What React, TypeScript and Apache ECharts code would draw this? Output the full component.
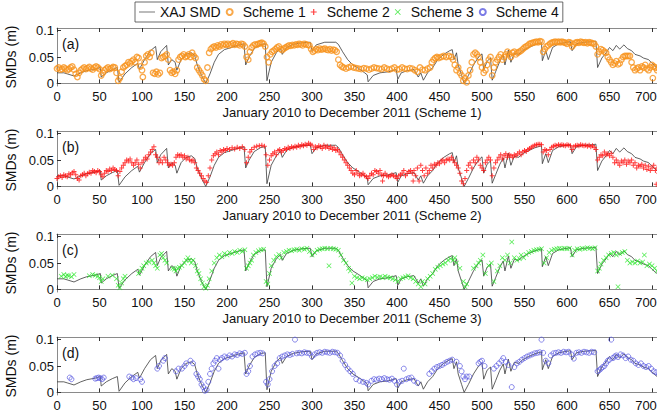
import React, { useEffect, useRef } from "react";
import * as echarts from "echarts";

const FONT = '"Liberation Sans", Arial, Helvetica, sans-serif';

// XAJ SMD (day, m)
const xajSmd: [number, number][] = [[0,0.02],[8,0.02],[12,0.018],[20,0.014],[28,0.02],[35,0.024],[45,0.027],[51,0.03],[52,0.012],[58,0.02],[65,0.026],[71,0.03],[73,0.002],[80,0.018],[88,0.03],[95,0.038],[97,0.027],[103,0.045],[110,0.062],[116,0.07],[118,0.045],[122,0.06],[129,0.072],[131,0.035],[135,0.045],[139,0.04],[141,0.025],[146,0.045],[152,0.055],[158,0.058],[162,0.053],[165,0.035],[170,0.015],[175,0.0],[180,0.018],[185,0.04],[190,0.055],[197,0.064],[205,0.068],[212,0.072],[220,0.075],[222,0.035],[226,0.05],[232,0.066],[240,0.074],[245,0.075],[247,0.005],[252,0.04],[258,0.058],[263,0.066],[265,0.055],[270,0.068],[278,0.074],[288,0.077],[298,0.078],[300,0.062],[305,0.073],[315,0.078],[328,0.078],[331,0.074],[336,0.06],[342,0.045],[348,0.035],[355,0.028],[362,0.02],[365,0.016],[366,0.003],[372,0.015],[380,0.02],[390,0.022],[399,0.026],[401,0.008],[405,0.02],[412,0.024],[420,0.026],[425,0.012],[428,0.02],[431,0.006],[436,0.02],[442,0.03],[448,0.045],[455,0.055],[462,0.062],[465,0.064],[467,0.045],[470,0.058],[472,0.035],[476,0.015],[479,0.0],[484,0.015],[490,0.035],[496,0.05],[500,0.056],[502,0.025],[506,0.042],[510,0.048],[512,0.006],[516,0.022],[521,0.042],[525,0.054],[527,0.035],[531,0.063],[534,0.04],[538,0.057],[543,0.055],[548,0.062],[555,0.068],[562,0.073],[570,0.077],[571,0.043],[575,0.062],[578,0.045],[583,0.068],[590,0.075],[600,0.078],[604,0.079],[606,0.062],[611,0.075],[620,0.078],[630,0.079],[634,0.08],[636,0.03],[641,0.048],[646,0.058],[650,0.068],[654,0.062],[658,0.072],[662,0.065],[667,0.073],[671,0.066],[676,0.062],[680,0.055],[686,0.052],[690,0.048],[696,0.045],[700,0.038],[706,0.03],[712,0.03],[718,0.035],[724,0.04],[730,0.042]];

const scheme1: [number, number][] = [[0,0.028],[2,0.03],[4,0.026],[6,0.027],[8,0.03],[10,0.028],[12,0.025],[14,0.027],[16,0.03],[18,0.032],[20,0.026],[22,0.018],[24,0.012],[26,0.02],[28,0.025],[30,0.028],[32,0.03],[34,0.027],[36,0.029],[38,0.031],[40,0.028],[42,0.026],[44,0.03],[46,0.032],[48,0.03],[50,0.027],[52,0.015],[54,0.02],[56,0.025],[58,0.028],[60,0.03],[62,0.027],[64,0.029],[66,0.031],[68,0.03],[70,0.02],[72,0.005],[74,0.01],[76,0.022],[78,0.03],[80,0.033],[82,0.035],[84,0.04],[86,0.038],[88,0.042],[90,0.045],[92,0.04],[94,0.05],[96,0.048],[98,0.032],[100,0.025],[101,0.012],[103,0.04],[105,0.052],[107,0.055],[109,0.05],[111,0.058],[113,0.02],[115,0.018],[117,0.022],[119,0.017],[121,0.02],[123,0.048],[125,0.05],[127,0.052],[129,0.055],[131,0.045],[133,0.025],[135,0.02],[137,0.022],[139,0.018],[141,0.025],[143,0.045],[145,0.05],[147,0.052],[149,0.055],[151,0.05],[153,0.052],[155,0.055],[157,0.05],[159,0.058],[161,0.052],[163,0.048],[165,0.03],[167,0.025],[169,0.02],[171,0.015],[173,0.008],[175,0.005],[177,0.03],[179,0.058],[181,0.065],[183,0.068],[185,0.07],[187,0.068],[189,0.072],[191,0.07],[193,0.074],[195,0.072],[197,0.075],[199,0.073],[201,0.075],[203,0.072],[205,0.074],[207,0.076],[209,0.073],[211,0.075],[213,0.074],[215,0.072],[217,0.075],[219,0.074],[221,0.07],[223,0.05],[225,0.045],[227,0.06],[229,0.068],[231,0.072],[233,0.074],[235,0.073],[237,0.075],[239,0.076],[241,0.077],[243,0.075],[245,0.07],[247,0.05],[249,0.04],[251,0.055],[253,0.06],[255,0.062],[257,0.065],[259,0.068],[261,0.07],[263,0.065],[265,0.063],[267,0.066],[269,0.068],[271,0.07],[273,0.072],[275,0.071],[277,0.073],[279,0.072],[281,0.074],[283,0.073],[285,0.075],[287,0.074],[289,0.072],[291,0.075],[293,0.074],[295,0.073],[297,0.072],[299,0.065],[301,0.06],[303,0.062],[305,0.065],[307,0.063],[309,0.066],[311,0.064],[313,0.065],[315,0.066],[317,0.064],[319,0.063],[321,0.065],[323,0.062],[325,0.064],[327,0.063],[329,0.06],[331,0.045],[333,0.035],[335,0.032],[337,0.03],[340,0.028],[343,0.03],[346,0.032],[349,0.03],[352,0.029],[355,0.028],[358,0.027],[361,0.029],[364,0.028],[367,0.026],[370,0.028],[373,0.03],[376,0.029],[379,0.028],[382,0.027],[385,0.03],[388,0.028],[391,0.026],[394,0.028],[397,0.03],[400,0.026],[403,0.027],[406,0.03],[409,0.028],[412,0.027],[415,0.029],[418,0.028],[421,0.025],[424,0.022],[427,0.03],[430,0.026],[433,0.025],[436,0.028],[439,0.03],[441,0.04],[443,0.045],[445,0.048],[447,0.05],[449,0.048],[452,0.05],[455,0.052],[458,0.05],[461,0.052],[464,0.05],[466,0.045],[468,0.035],[470,0.025],[472,0.03],[474,0.02],[476,0.015],[478,0.005],[480,0.01],[482,0.002],[484,0.015],[486,0.025],[488,0.04],[490,0.055],[492,0.058],[494,0.055],[496,0.05],[498,0.04],[500,0.03],[502,0.02],[504,0.025],[506,0.035],[508,0.045],[510,0.05],[512,0.015],[514,0.03],[516,0.04],[518,0.045],[520,0.05],[522,0.055],[524,0.045],[526,0.05],[528,0.055],[530,0.06],[532,0.055],[534,0.05],[536,0.058],[538,0.06],[540,0.055],[542,0.058],[544,0.06],[546,0.062],[548,0.065],[550,0.068],[552,0.07],[554,0.072],[556,0.075],[558,0.076],[560,0.077],[562,0.078],[564,0.079],[566,0.078],[568,0.08],[570,0.079],[572,0.06],[574,0.065],[576,0.07],[578,0.072],[580,0.075],[582,0.077],[584,0.078],[586,0.079],[588,0.078],[590,0.079],[592,0.078],[594,0.079],[596,0.078],[598,0.077],[600,0.075],[602,0.078],[604,0.077],[606,0.07],[608,0.074],[610,0.077],[612,0.078],[614,0.077],[616,0.079],[618,0.078],[620,0.077],[622,0.078],[624,0.076],[626,0.078],[628,0.077],[630,0.076],[632,0.075],[634,0.07],[636,0.055],[638,0.06],[640,0.065],[642,0.063],[644,0.06],[646,0.058],[648,0.05],[650,0.045],[652,0.04],[654,0.035],[656,0.038],[658,0.042],[660,0.036],[662,0.038],[664,0.045],[666,0.05],[668,0.052],[670,0.052],[672,0.052],[674,0.052],[676,0.04],[678,0.03],[680,0.025],[682,0.028],[684,0.03],[686,0.025],[688,0.032],[690,0.03],[692,0.035],[694,0.028],[696,0.025],[698,0.03],[700,0.035],[701,0.01],[702,0.032],[704,0.03],[706,0.025],[708,0.028],[710,0.03],[712,0.027],[714,0.03]];

const scheme2: [number, number][] = [[0,0.015],[2,0.018],[4,0.02],[6,0.017],[8,0.022],[10,0.02],[12,0.018],[14,0.024],[16,0.022],[18,0.026],[20,0.028],[22,0.022],[24,0.015],[26,0.012],[28,0.02],[30,0.022],[32,0.025],[34,0.02],[36,0.024],[38,0.027],[40,0.025],[42,0.03],[44,0.028],[46,0.026],[48,0.03],[50,0.028],[52,0.022],[54,0.018],[56,0.025],[58,0.03],[60,0.028],[62,0.033],[64,0.03],[66,0.035],[68,0.032],[70,0.03],[72,0.02],[74,0.028],[76,0.035],[78,0.04],[80,0.045],[82,0.05],[84,0.048],[86,0.052],[88,0.045],[90,0.04],[92,0.045],[94,0.05],[96,0.042],[98,0.035],[100,0.045],[102,0.05],[104,0.055],[106,0.052],[108,0.06],[110,0.065],[112,0.07],[114,0.075],[116,0.06],[118,0.055],[120,0.045],[122,0.05],[124,0.045],[126,0.055],[128,0.05],[130,0.045],[132,0.04],[134,0.042],[136,0.04],[138,0.045],[140,0.055],[142,0.06],[144,0.058],[146,0.06],[148,0.055],[150,0.058],[152,0.052],[154,0.055],[156,0.05],[158,0.048],[160,0.05],[162,0.045],[164,0.035],[166,0.03],[168,0.025],[170,0.02],[172,0.015],[174,0.01],[176,0.008],[178,0.02],[180,0.035],[182,0.05],[184,0.058],[186,0.062],[188,0.065],[190,0.06],[192,0.068],[194,0.065],[196,0.07],[198,0.068],[200,0.072],[203,0.07],[206,0.073],[209,0.071],[212,0.074],[215,0.072],[218,0.075],[221,0.07],[223,0.045],[225,0.055],[227,0.065],[229,0.07],[232,0.074],[235,0.076],[238,0.077],[241,0.078],[244,0.076],[246,0.06],[248,0.04],[250,0.05],[252,0.058],[254,0.062],[256,0.065],[258,0.06],[260,0.068],[262,0.07],[264,0.065],[266,0.068],[268,0.072],[270,0.07],[272,0.074],[274,0.072],[276,0.075],[278,0.073],[280,0.076],[282,0.074],[284,0.078],[286,0.075],[288,0.079],[290,0.077],[292,0.08],[294,0.078],[296,0.082],[298,0.08],[300,0.078],[302,0.07],[304,0.075],[306,0.073],[308,0.077],[310,0.075],[312,0.072],[314,0.078],[316,0.074],[318,0.076],[320,0.072],[322,0.075],[324,0.07],[326,0.073],[328,0.068],[330,0.07],[332,0.065],[334,0.06],[336,0.055],[338,0.05],[340,0.045],[342,0.04],[344,0.035],[346,0.03],[348,0.025],[350,0.022],[352,0.03],[354,0.025],[356,0.02],[358,0.022],[360,0.025],[362,0.02],[364,0.018],[366,0.015],[368,0.02],[370,0.025],[372,0.022],[374,0.03],[376,0.028],[378,0.025],[380,0.03],[382,0.022],[383,0.01],[384,0.02],[386,0.025],[388,0.02],[390,0.018],[392,0.02],[394,0.022],[396,0.02],[398,0.018],[400,0.015],[402,0.02],[404,0.022],[406,0.025],[408,0.03],[410,0.02],[412,0.025],[414,0.028],[416,0.03],[418,0.025],[419,0.01],[420,0.03],[422,0.02],[424,0.035],[426,0.01],[428,0.04],[430,0.03],[432,0.02],[434,0.035],[436,0.025],[438,0.03],[440,0.04],[442,0.035],[444,0.042],[446,0.04],[448,0.045],[450,0.043],[452,0.048],[454,0.05],[456,0.045],[458,0.05],[460,0.052],[462,0.05],[464,0.055],[466,0.05],[468,0.045],[470,0.04],[472,0.035],[474,0.025],[476,0.01],[478,0.005],[480,0.015],[482,0.03],[484,0.04],[486,0.045],[488,0.035],[490,0.05],[492,0.045],[494,0.055],[496,0.05],[498,0.04],[500,0.035],[502,0.03],[504,0.045],[506,0.05],[508,0.055],[510,0.05],[512,0.02],[514,0.035],[516,0.045],[518,0.05],[520,0.055],[522,0.06],[524,0.052],[526,0.058],[528,0.062],[530,0.055],[532,0.06],[534,0.058],[536,0.055],[538,0.06],[540,0.058],[542,0.062],[544,0.065],[546,0.06],[548,0.065],[550,0.068],[552,0.066],[554,0.07],[556,0.072],[558,0.074],[560,0.076],[562,0.078],[564,0.079],[566,0.08],[568,0.08],[570,0.079],[572,0.065],[574,0.07],[576,0.068],[578,0.06],[580,0.07],[582,0.074],[584,0.076],[586,0.078],[588,0.077],[590,0.079],[592,0.078],[594,0.079],[596,0.078],[598,0.077],[600,0.079],[602,0.078],[604,0.077],[606,0.07],[608,0.075],[610,0.077],[612,0.078],[614,0.077],[616,0.079],[618,0.078],[620,0.077],[622,0.078],[624,0.076],[626,0.078],[628,0.075],[630,0.077],[632,0.074],[634,0.07],[636,0.05],[638,0.055],[640,0.06],[642,0.058],[644,0.065],[646,0.06],[648,0.062],[650,0.058],[652,0.063],[654,0.055],[656,0.045],[658,0.05],[660,0.045],[662,0.04],[664,0.048],[666,0.045],[668,0.05],[670,0.042],[672,0.048],[674,0.045],[676,0.05],[678,0.04],[680,0.045],[682,0.035],[684,0.04],[686,0.038],[688,0.042],[690,0.035],[692,0.04],[694,0.032],[696,0.038],[698,0.03],[700,0.035],[702,0.04],[704,0.03],[705,0.004],[706,0.035],[708,0.025],[710,0.03],[712,0.028],[714,0.032]];

const scheme3: [number, number][] = [[5,0.025],[8,0.028],[10,0.024],[12,0.027],[14,0.026],[17,0.024],[20,0.028],[38,0.026],[42,0.028],[45,0.027],[48,0.025],[50,0.022],[52,0.015],[54,0.02],[60,0.025],[65,0.027],[70,0.02],[72,0.008],[74,0.003],[76,0.012],[78,0.02],[80,0.025],[96,0.03],[98,0.035],[100,0.04],[102,0.045],[105,0.05],[108,0.052],[112,0.055],[114,0.05],[116,0.045],[118,0.04],[121,0.065],[123,0.068],[125,0.06],[127,0.055],[129,0.05],[136,0.04],[138,0.038],[140,0.035],[142,0.04],[144,0.042],[147,0.045],[150,0.05],[152,0.055],[154,0.06],[156,0.055],[158,0.05],[160,0.055],[163,0.045],[165,0.035],[167,0.03],[169,0.02],[171,0.012],[173,0.005],[175,0.002],[177,0.008],[179,0.02],[182,0.035],[185,0.05],[188,0.06],[191,0.065],[194,0.062],[197,0.068],[200,0.065],[203,0.07],[206,0.068],[209,0.072],[212,0.07],[215,0.074],[218,0.072],[221,0.075],[223,0.04],[225,0.045],[227,0.05],[229,0.055],[231,0.065],[234,0.07],[237,0.073],[240,0.075],[243,0.076],[246,0.015],[248,0.01],[250,0.03],[252,0.045],[255,0.055],[258,0.062],[261,0.066],[264,0.06],[267,0.07],[270,0.072],[273,0.074],[276,0.073],[279,0.075],[282,0.076],[285,0.074],[288,0.077],[291,0.076],[294,0.078],[297,0.072],[300,0.065],[303,0.07],[306,0.074],[309,0.076],[312,0.077],[315,0.078],[318,0.077],[320,0.045],[322,0.078],[325,0.077],[328,0.076],[331,0.074],[334,0.065],[337,0.055],[340,0.05],[343,0.04],[345,0.035],[347,0.012],[350,0.025],[353,0.022],[356,0.02],[359,0.022],[362,0.02],[365,0.018],[368,0.02],[371,0.022],[374,0.025],[377,0.023],[380,0.024],[383,0.022],[386,0.025],[389,0.023],[392,0.022],[395,0.02],[398,0.018],[401,0.015],[404,0.02],[407,0.022],[410,0.024],[413,0.026],[416,0.022],[419,0.02],[422,0.015],[425,0.01],[428,0.005],[430,0.015],[433,0.01],[436,0.02],[439,0.025],[442,0.03],[445,0.038],[448,0.042],[451,0.045],[454,0.048],[457,0.05],[460,0.055],[463,0.058],[466,0.055],[468,0.06],[470,0.05],[474,0.04],[478,0.015],[480,0.005],[482,0.01],[490,0.04],[493,0.045],[496,0.05],[498,0.055],[501,0.065],[504,0.03],[508,0.045],[511,0.05],[514,0.015],[518,0.035],[521,0.045],[524,0.06],[527,0.055],[530,0.065],[533,0.05],[535,0.09],[538,0.06],[541,0.055],[544,0.058],[546,0.065],[549,0.06],[552,0.066],[555,0.07],[558,0.072],[561,0.074],[564,0.075],[567,0.076],[570,0.077],[573,0.05],[576,0.06],[579,0.07],[582,0.074],[585,0.076],[588,0.077],[591,0.078],[594,0.077],[597,0.078],[600,0.077],[603,0.078],[606,0.065],[609,0.074],[612,0.077],[615,0.076],[618,0.078],[621,0.077],[624,0.079],[627,0.078],[630,0.077],[633,0.079],[636,0.035],[638,0.04],[640,0.048],[643,0.055],[646,0.06],[649,0.065],[652,0.068],[655,0.07],[658,0.065],[660,0.005],[662,0.068],[665,0.07],[668,0.072],[671,0.055],[674,0.05],[677,0.052],[680,0.05],[683,0.054],[686,0.05],[689,0.052],[691,0.065],[694,0.045],[697,0.048],[700,0.045],[703,0.04],[706,0.035],[709,0.032],[712,0.03],[715,0.032]];

const scheme4: [number, number][] = [[15,0.028],[17,0.025],[45,0.026],[47,0.027],[49,0.028],[51,0.027],[53,0.025],[55,0.028],[85,0.03],[88,0.028],[90,0.025],[93,0.027],[98,0.025],[100,0.02],[118,0.045],[120,0.05],[125,0.06],[127,0.065],[140,0.04],[143,0.045],[147,0.045],[150,0.05],[152,0.055],[157,0.06],[160,0.055],[164,0.035],[166,0.03],[168,0.025],[170,0.015],[172,0.01],[174,0.003],[176,0.005],[178,0.02],[180,0.035],[182,0.045],[184,0.055],[186,0.06],[188,0.065],[190,0.045],[192,0.062],[194,0.065],[197,0.068],[200,0.066],[203,0.07],[206,0.068],[209,0.072],[212,0.071],[215,0.074],[218,0.073],[221,0.075],[223,0.035],[225,0.04],[227,0.05],[230,0.068],[233,0.072],[236,0.074],[239,0.075],[242,0.074],[246,0.02],[248,0.015],[250,0.025],[253,0.04],[256,0.05],[259,0.055],[262,0.065],[265,0.068],[268,0.07],[271,0.072],[274,0.071],[277,0.073],[280,0.1],[282,0.074],[285,0.075],[288,0.074],[291,0.076],[294,0.075],[297,0.074],[300,0.068],[303,0.072],[306,0.075],[309,0.076],[312,0.075],[315,0.077],[318,0.076],[321,0.075],[324,0.077],[327,0.076],[330,0.075],[333,0.07],[336,0.06],[339,0.052],[342,0.045],[345,0.04],[348,0.035],[352,0.025],[356,0.022],[360,0.02],[364,0.018],[366,0.015],[370,0.022],[373,0.025],[376,0.024],[379,0.026],[382,0.025],[385,0.027],[388,0.025],[391,0.024],[394,0.026],[397,0.022],[400,0.015],[403,0.02],[406,0.022],[408,0.045],[411,0.025],[414,0.027],[417,0.028],[420,0.022],[424,0.018],[438,0.035],[441,0.04],[444,0.045],[447,0.048],[450,0.05],[453,0.052],[456,0.055],[459,0.058],[462,0.06],[465,0.062],[470,0.058],[474,0.05],[476,0.04],[478,0.03],[480,0.025],[482,0.03],[485,0.03],[496,0.055],[498,0.058],[500,0.06],[503,0.05],[514,0.045],[517,0.05],[520,0.055],[523,0.06],[525,0.065],[528,0.058],[531,0.052],[535,0.01],[538,0.048],[541,0.055],[544,0.058],[547,0.062],[550,0.065],[553,0.068],[556,0.07],[559,0.072],[562,0.074],[565,0.075],[568,0.076],[570,0.1],[572,0.075],[575,0.06],[578,0.055],[581,0.07],[584,0.074],[587,0.075],[590,0.076],[593,0.075],[596,0.077],[599,0.076],[602,0.077],[605,0.072],[608,0.064],[611,0.075],[614,0.076],[617,0.075],[620,0.077],[623,0.076],[626,0.075],[629,0.077],[632,0.076],[636,0.04],[638,0.042],[640,0.045],[642,0.048],[644,0.05],[646,0.055],[648,0.06],[650,0.062],[652,0.1],[654,0.065],[656,0.068],[658,0.07],[660,0.067],[663,0.072],[666,0.07],[669,0.065],[672,0.068],[675,0.062],[678,0.06],[681,0.055],[684,0.052],[687,0.055],[690,0.05],[693,0.048],[696,0.05],[699,0.045],[702,0.04],[705,0.038],[708,0.035],[710,0.015],[712,0.03],[715,0.03]];

const yTicks = [0, 0.05, 0.1];
const panelLabels = ["(a)", "(b)", "(c)", "(d)"];
const schemeNames = ["Scheme 1", "Scheme 2", "Scheme 3", "Scheme 4"];
// the fourth panel's x title lies below the picture's bottom edge in the reference
const xTitles = [
  "January 2010 to December 2011 (Scheme 1)",
  "January 2010 to December 2011 (Scheme 2)",
  "January 2010 to December 2011 (Scheme 3)",
];

const PLUS = "path://M4,0H6V4H10V6H6V10H4V6H0V4H4Z";
const CROSS = "path://M0,1L1,0L5,4L9,0L10,1L6,5L10,9L9,10L5,6L1,10L0,9L4,5Z";
const LINE_ICON = "path://M0,0H20V1H0Z";

export default function App() {
  const ref = useRef<HTMLDivElement>(null);
  useEffect(() => {
    if (!ref.current) return;
    const chart = echarts.init(ref.current, null, { renderer: "svg" });
    const schemes = [scheme1, scheme2, scheme3, scheme4];
    const schemeStyles: any[] = [
      { symbol: "circle", symbolSize: 5.5, itemStyle: { color: "rgba(0,0,0,0)", borderColor: "#F7931E", borderWidth: 1.3 } },
      { symbol: PLUS, symbolSize: 5, itemStyle: { color: "#FF1010" } },
      { symbol: CROSS, symbolSize: 5, itemStyle: { color: "#22E622" } },
      { symbol: "circle", symbolSize: 5, itemStyle: { color: "rgba(0,0,0,0)", borderColor: "#5A5AE0", borderWidth: 0.9 } },
    ];
    const grids: any[] = [];
    const xAxes: any[] = [];
    const yAxes: any[] = [];
    const series: any[] = [];
    const graphics: any[] = [];
    const axisColor = "#8a8a8a";
    // the last visible label sits at the picture's right edge: pad it so it stays inside
    const xFmt = (v: number) => (v % 50 !== 0 ? "" : v === 700 ? "{edge|700}" : String(v));
    for (let i = 0; i < 4; i++) {
      const top = 28 + 103 * i;
      grids.push({ left: 57, top, width: 620.5, height: 58, outerBoundsMode: "none", containLabel: false });
      xAxes.push({
        type: "value", gridIndex: i, min: 0, max: 730, interval: 50, position: "bottom",
        axisLine: { lineStyle: { color: axisColor, width: 1 } },
        axisTick: { inside: true, length: 4, lineStyle: { color: "#333" } },
        axisLabel: {
          margin: 4, fontSize: 13, fontFamily: FONT, color: "#111", formatter: xFmt, hideOverlap: false,
          rich: { edge: { fontSize: 13, fontFamily: FONT, color: "#111", padding: [0, 12, 0, 0] } },
        },
        splitLine: { show: false },
      });
      xAxes.push({
        type: "value", gridIndex: i, min: 0, max: 730, interval: 50, position: "top",
        axisLine: { lineStyle: { color: axisColor, width: 1 } },
        axisTick: { inside: true, length: 4, lineStyle: { color: "#333" } },
        axisLabel: { show: false },
        splitLine: { show: false },
      });
      yAxes.push({
        type: "value", gridIndex: i, min: -0.005, max: 0.105,
        name: "SMDs (m)", nameLocation: "middle", nameGap: 28,
        nameTextStyle: { fontSize: 14, fontFamily: FONT, color: "#111" },
        axisLine: { show: true, lineStyle: { color: axisColor, width: 1 } },
        axisTick: { show: true, inside: true, length: 4, customValues: yTicks, lineStyle: { color: "#333" } },
        axisLabel: { margin: 3, fontSize: 13, fontFamily: FONT, color: "#111", customValues: yTicks,
          formatter: (v: number) => (Math.abs(v) < 1e-9 ? "0" : String(Math.round(v * 100) / 100)) },
        splitLine: { show: false },
      });
      series.push({
        name: "XAJ SMD", type: "line", xAxisIndex: 2 * i, yAxisIndex: i, data: xajSmd,
        symbol: "none", lineStyle: { color: "#3a3a3a", width: 0.8 }, itemStyle: { color: "#3a3a3a" }, z: 2, silent: true,
      });
      series.push({
        name: schemeNames[i], type: "scatter", xAxisIndex: 2 * i, yAxisIndex: i, data: schemes[i],
        ...schemeStyles[i], z: 3, silent: true,
      });
      graphics.push({
        type: "text", x: 62, y: 44 + 103 * i,
        style: { text: panelLabels[i], fontSize: 14, fontFamily: FONT, fill: "#111", align: "left", verticalAlign: "middle", textAlign: "left", textVerticalAlign: "middle" },
      });
      if (i < xTitles.length) {
        graphics.push({
          type: "text", x: 352, y: 112 + 103 * i,
          style: { text: xTitles[i], fontSize: 13, fontFamily: FONT, fill: "#111", align: "center", verticalAlign: "middle", textAlign: "center", textVerticalAlign: "middle" },
        });
      }
    }
    chart.setOption({
      animation: false,
      backgroundColor: "#fff",
      grid: grids,
      xAxis: xAxes,
      yAxis: yAxes,
      series,
      graphic: graphics,
      legend: {
        left: 135, top: 2, orient: "horizontal",
        itemWidth: 16, itemHeight: 6, itemGap: 5, padding: [3, 4],
        borderColor: "#444", borderWidth: 0.8, backgroundColor: "#fff",
        textStyle: { fontSize: 14, fontFamily: FONT, color: "#111" },
        data: [
          { name: "XAJ SMD", icon: LINE_ICON, itemStyle: { color: "#555", borderWidth: 0 } },
          { name: "Scheme 1", icon: "circle" },
          { name: "Scheme 2", icon: PLUS },
          { name: "Scheme 3", icon: CROSS },
          { name: "Scheme 4", icon: "circle" },
        ],
      },
    });
    return () => chart.dispose();
  }, []);
  return <div ref={ref} style={{ position: "fixed", left: 0, top: 0, width: 657, height: 412 }} />;
}
